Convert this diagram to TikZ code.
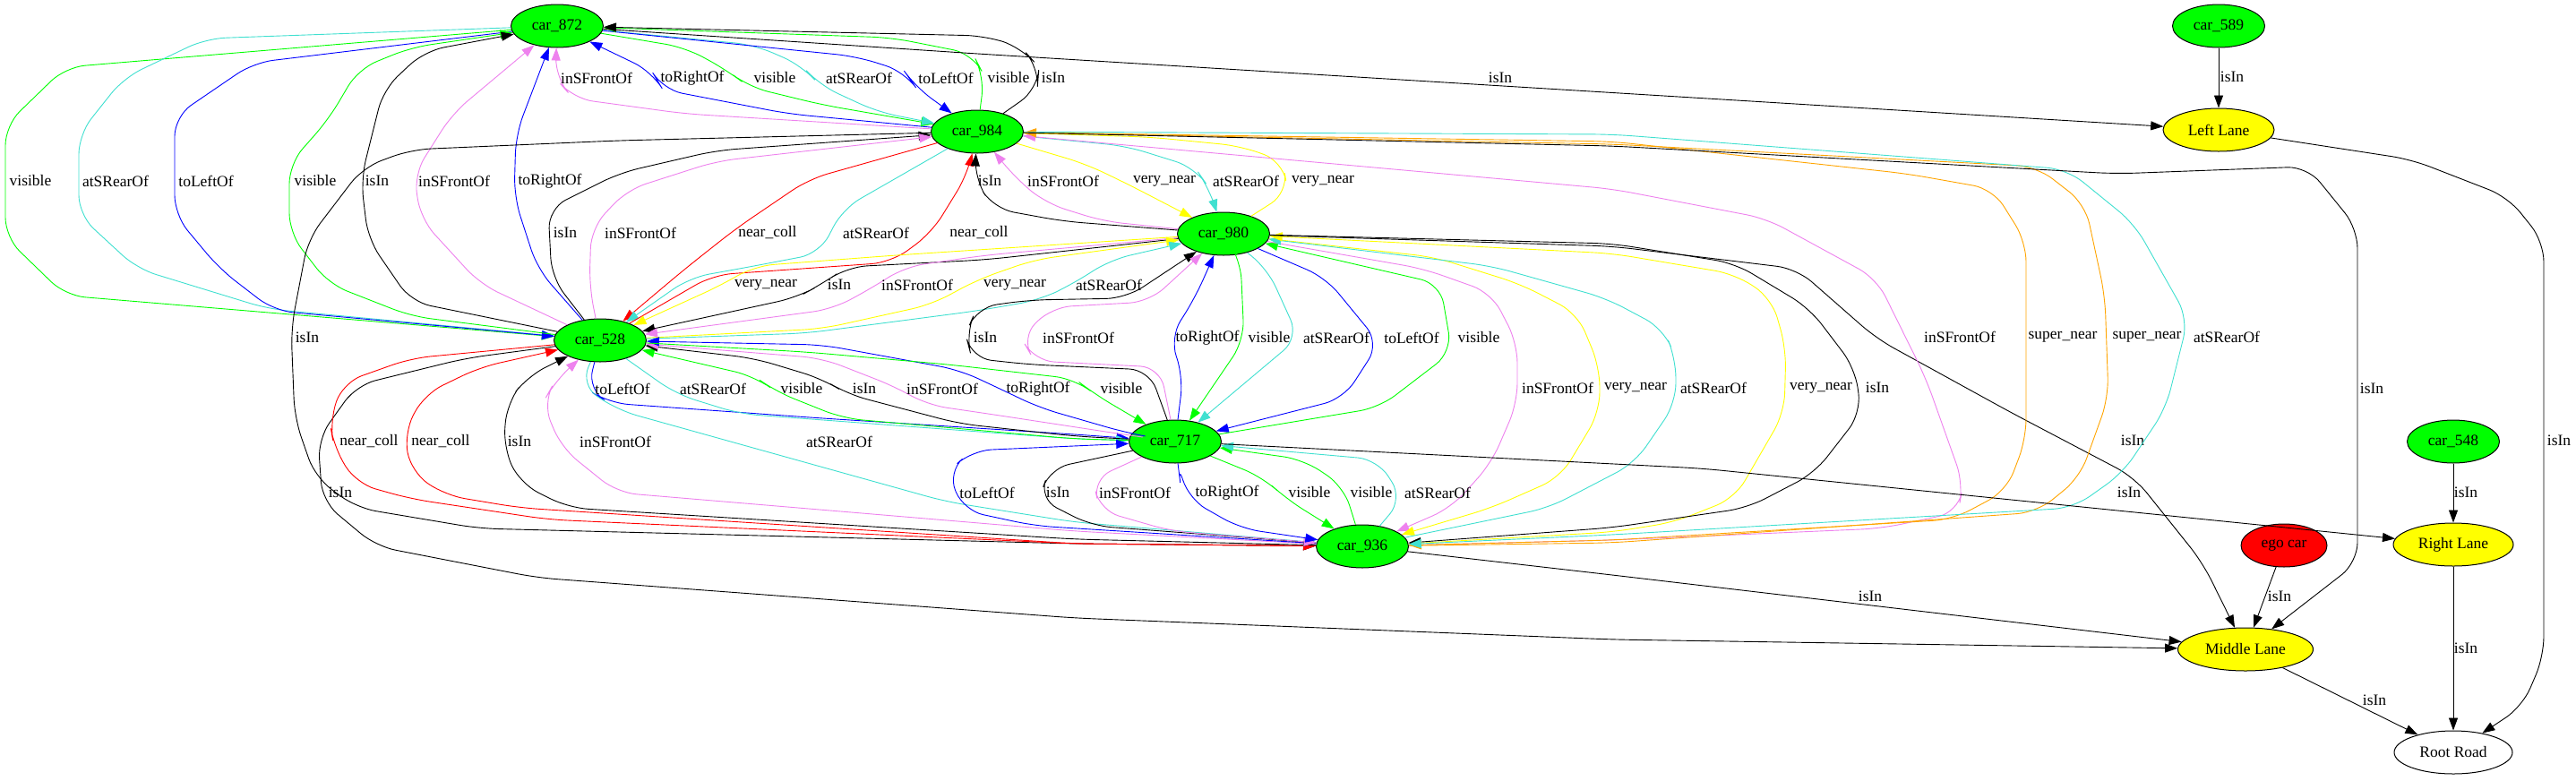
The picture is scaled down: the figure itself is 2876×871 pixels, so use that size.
\documentclass[tikz,border=0pt]{standalone}
\usepackage{fontspec}
\setmainfont{Liberation Serif}
\usetikzlibrary{shapes.geometric,arrows.meta}
\definecolor{gvgreen}{HTML}{00FF00}
\definecolor{gvturq}{HTML}{40E0D0}
\definecolor{gvblue}{HTML}{0000FF}
\definecolor{gvviolet}{HTML}{EE82EE}
\definecolor{gvred}{HTML}{FF0000}
\definecolor{gvyellow}{HTML}{FFFF00}
\definecolor{gvorange}{HTML}{FFA500}
\tikzset{
 car/.style={ellipse, draw=black, line width=1pt, fill=gvgreen, minimum width=103pt, minimum height=48pt, inner sep=0pt},
 lane/.style={car, fill=gvyellow},
 egocar/.style={car, fill=gvred, minimum width=96pt},
 road/.style={car, fill=white, minimum width=132pt},
 lbl/.style={inner sep=0pt, text=black},
 rel/.style={line width=0.9pt, rounded corners=22pt, -{Triangle[length=14pt,width=10pt]}},
 visE/.style={rel, draw=gvgreen},
 rearE/.style={rel, draw=gvturq},
 leftE/.style={rel, draw=gvblue},
 rightE/.style={rel, draw=gvblue},
 frontE/.style={rel, draw=gvviolet},
 isinE/.style={rel, draw=black},
 collE/.style={rel, draw=gvred},
 vnearE/.style={rel, draw=gvyellow},
 snearE/.style={rel, draw=gvorange}
}
\begin{document}
\begin{tikzpicture}[x=1pt, y=-1pt, font=\fontsize{17.5}{20}\selectfont]
\useasboundingbox (0,0) rectangle (2876,871);
\fill[white] (0,0) rectangle (2876,871);

\node[car] (n872) at (622,29) {car\_872};
\node[car] (n589) at (2477,29) {car\_589};
\node[car] (n984) at (1091,147) {car\_984};
\node[lane, minimum width=124pt] (nLL) at (2477,145) {Left Lane};
\node[car] (n980) at (1366,261) {car\_980};
\node[car] (n528) at (670,380) {car\_528};
\node[car] (n717) at (1312,493) {car\_717};
\node[car] (n548) at (2739,493) {car\_548};
\node[car] (n936) at (1521,610) {car\_936};
\node[egocar] (nego) at (2550,609) {ego car};
\node[lane, minimum width=134pt] (nRL) at (2739,608) {Right Lane};
\node[lane, minimum width=151pt] (nML) at (2507,725) {Middle Lane};
\node[road] (nRR) at (2739,840) {Root Road};

% car_872 and car_528
\draw[visE] (n872) -- (73,75) -- (6,140) -- (6,265) -- (73,330) -- (n528) node[lbl,at={(34,202)}] {visible};
\draw[rearE] (n872) -- (230,43) -- (138,87) -- (88,150) -- (88,240) -- (153,300) -- (300,345) -- (n528) node[lbl,at={(129,202)}] {atSRearOf};
\draw[leftE] (n872) -- (283,70) -- (195,130) -- (195,240) -- (245,300) -- (306,347) -- (n528) node[lbl,at={(230,202)}] {toLeftOf};
\draw[visE] (n528) -- (459,353) -- (367,317) -- (323,260) -- (323,183) -- (367,133) -- (400,77) -- (459,53) -- (n872) node[lbl,at={(352,202)}] {visible};
\draw[isinE] (n528) -- (459,337) -- (411,267) -- (403,200) -- (428,100) -- (474,57) -- (n872) node[lbl,at={(421,202)}] {isIn};
\draw[frontE] (n528) -- (536,317) -- (470,245) -- (462,195) -- (505,127) -- (n872) node[lbl,at={(507,202)}] {inSFrontOf};
\draw[rightE] (n528) -- (600,300) -- (574,220) -- (576,150) -- (n872) node[lbl,at={(614,202)}] {toRightOf};

% car_872 and car_984
\draw[frontE] (n984) -- (765,127) -- (640,110) -- (620,87) -- (n872) node[lbl,at={(666,87)}] {inSFrontOf};
\draw[rightE] (n984) -- (880,127) -- (740,100) -- (728,80) -- (n872) node[lbl,at={(773,87)}] {toRightOf};
\draw[visE] (n872) -- (765,53) -- (811,78) -- (836,97) -- (918,117) -- (n984) node[lbl,at={(865,87)}] {visible};
\draw[rearE] (n872) -- (842,50) -- (895,73) -- (915,95) -- (980,125) -- (n984) node[lbl,at={(959,87)}] {atSRearOf};
\draw[leftE] (n872) -- (956,63) -- (1010,80) -- (1022,97) -- (n984) node[lbl,at={(1056,87)}] {toLeftOf};
\draw[visE] (n984) -- (1099,85) -- (1086,60) -- (995,42) -- (n872) node[lbl,at={(1126,87)}] {visible};
\draw[isinE] (n984) -- (1158,100) -- (1160,75) -- (1140,53) -- (1100,40) -- (n872) node[lbl,at={(1176,87)}] {isIn};
\draw[isinE] (n872) -- (1091,60) -- (nLL) node[lbl,at={(1675,87)}] {isIn};
\draw[isinE] (n589) -- (nLL) node[lbl,at={(2492,86)}] {isIn};

% car_984 and car_528
\draw[isinE] (n528) -- (616,310) -- (612,233) -- (692,193) -- (800,168) -- (n984) node[lbl,at={(631,260)}] {isIn};
\draw[frontE] (n528) -- (658,320) -- (660,255) -- (700,212) -- (800,180) -- (n984) node[lbl,at={(715,260)}] {inSFrontOf};
\draw[collE] (n984) -- (903,200) -- (822,255) -- (765,300) -- (n528) node[lbl,at={(857,260)}] {near\_coll};
\draw[rearE] (n984) -- (941,233) -- (915,283) -- (842,297) -- (770,310) -- (n528) node[lbl,at={(978,260)}] {atSRearOf};
\draw[collE] (n528) -- (796,307) -- (995,293) -- (1040,260) -- (1080,195) -- (n984) node[lbl,at={(1093,260)}] {near\_coll};
\draw[isinE] (n984) -- (689,157) -- (459,167) -- (405,187) -- (344,267) -- (325,367) -- (329,467) -- (352,533) -- (398,567) -- (535,590) -- (1200,607) -- (n936) node[lbl,at={(343,377)}] {isIn};
\draw[isinE] (n528) -- (520,400) -- (398,430) -- (355,490) -- (360,560) -- (420,610) -- (600,645) -- (1200,690) -- (1800,714) -- (nML) node[lbl,at={(380,550)}] {isIn};

% car_984 and car_980
\draw[isinE] (n980) -- (1187,247) -- (1110,233) -- (1088,200) -- (n984) node[lbl,at={(1105,202)}] {isIn};
\draw[frontE] (n980) -- (1232,247) -- (1168,227) -- (1135,200) -- (n984) node[lbl,at={(1187,202)}] {inSFrontOf};
\draw[vnearE] (n984) -- (1212,183) -- (1258,205) -- (n980) node[lbl,at={(1300,202)}] {very\_near};
\draw[rearE] (n984) -- (1257,163) -- (1334,187) -- (1350,210) -- (n980) node[lbl,at={(1391,202)}] {atSRearOf};
\draw[vnearE] (n980) -- (1438,215) -- (1432,180) -- (1385,163) -- (1283,153) -- (n984) node[lbl,at={(1477,202)}] {very\_near};

% car_980 and car_528
\draw[vnearE] (n980) -- (1000,285) -- (842,297) -- (806,318) -- (n528) node[lbl,at={(855,318)}] {very\_near};
\draw[isinE] (n980) -- (1100,290) -- (946,298) -- (916,318) -- (890,332) -- (n528) node[lbl,at={(937,318)}] {isIn};
\draw[frontE] (n980) -- (1100,285) -- (1010,298) -- (976,320) -- (930,345) -- (n528) node[lbl,at={(1024,318)}] {inSFrontOf};
\draw[vnearE] (n528) -- (918,367) -- (1040,340) -- (1092,312) -- (1155,290) -- (n980) node[lbl,at={(1133,318)}] {very\_near};
\draw[rearE] (n528) -- (900,372) -- (1091,347) -- (1160,335) -- (1196,318) -- (1240,290) -- (n980) node[lbl,at={(1238,318)}] {atSRearOf};

% car_980 and car_717
\draw[isinE] (n717) -- (1283,413) -- (1150,407) -- (1085,400) -- (1078,373) -- (1091,343) -- (1149,335) -- (1257,333) -- (n980) node[lbl,at={(1100,377)}] {isIn};
\draw[frontE] (n717) -- (1295,410) -- (1155,403) -- (1140,377) -- (1174,343) -- (1283,337) -- (n980) node[lbl,at={(1204,377)}] {inSFrontOf};
\draw[rightE] (n717) -- (1321,420) -- (1306,377) -- (1334,333) -- (n980) node[lbl,at={(1348,377)}] {toRightOf};
\draw[visE] (n980) -- (1385,290) -- (1389,380) -- (n717) node[lbl,at={(1417,377)}] {visible};
\draw[rearE] (n980) -- (1415,300) -- (1450,377) -- (n717) node[lbl,at={(1492,377)}] {atSRearOf};
\draw[leftE] (n980) -- (1480,310) -- (1540,383) -- (1500,445) -- (n717) node[lbl,at={(1576,377)}] {toLeftOf};
\draw[visE] (n717) -- (1540,455) -- (1621,393) -- (1608,317) -- (n980) node[lbl,at={(1651,377)}] {visible};

% car_980 and car_936
\draw[frontE] (n980) -- (1589,300) -- (1665,327) -- (1694,383) -- (1694,450) -- (1665,517) -- (1620,567) -- (n936) node[lbl,at={(1739,433)}] {inSFrontOf};
\draw[vnearE] (n980) -- (1601,287) -- (1697,317) -- (1761,350) -- (1786,410) -- (1786,460) -- (1742,533) -- (1665,567) -- (n936) node[lbl,at={(1826,433)}] {very\_near};
\draw[rearE] (n936) -- (1729,567) -- (1825,517) -- (1871,450) -- (1871,400) -- (1857,367) -- (1793,333) -- (1665,297) -- (n980) node[lbl,at={(1913,433)}] {atSRearOf};
\draw[vnearE] (n936) -- (1800,594) -- (1869,583) -- (1937,556) -- (1992,461) -- (1994,389) -- (1978,333) -- (1937,306) -- (1800,283) -- (n980) node[lbl,at={(2033,433)}] {very\_near};
\draw[isinE] (n980) -- (1800,272) -- (1937,294) -- (2020,344) -- (2071,411) -- (2078,461) -- (2026,528) -- (1951,567) -- (1800,589) -- (n936) node[lbl,at={(2096,433)}] {isIn};
\draw[isinE] (n980) -- (1800,275) -- (2006,300) -- (2095,378) -- (2246,461) -- (2383,533) -- (2459,628) -- (nML) node[lbl,at={(2381,492)}] {isIn};

% car_984 and car_936
\draw[frontE] (n936) -- (1800,603) -- (2100,590) -- (2186,572) -- (2192,540) -- (2150,422) -- (2095,311) -- (1972,244) -- (1800,211) -- (n984) node[lbl,at={(2188,376)}] {inSFrontOf};
\draw[snearE] (n984) -- (1800,158) -- (2129,194) -- (2225,211) -- (2262,270) -- (2262,490) -- (2240,548) -- (2180,580) -- (1800,603) -- (n936) node[lbl,at={(2303,376)}] {super\_near};
\draw[snearE] (n936) -- (1800,606) -- (2274,572) -- (2322,533) -- (2354,444) -- (2350,330) -- (2328,228) -- (2274,186) -- (1800,161) -- (n984) node[lbl,at={(2397,376)}] {super\_near};
\draw[rearE] (n984) -- (1800,150) -- (2308,189) -- (2383,250) -- (2443,356) -- (2418,456) -- (2370,528) -- (2315,567) -- (1800,597) -- (n936) node[lbl,at={(2486,376)}] {atSRearOf};
\draw[isinE] (n984) -- (1800,163) -- (2363,194) -- (2576,186) -- (2632,255) -- (2632,628) -- (nML) node[lbl,at={(2648,434)}] {isIn};

% car_528 and car_717
\draw[leftE] (n528) -- (656,435) -- (680,450) -- (918,467) -- (1200,485) -- (n717) node[lbl,at={(695,434)}] {toLeftOf};
\draw[rearE] (n528) -- (755,440) -- (826,462) -- (1200,490) -- (n717) node[lbl,at={(796,434)}] {atSRearOf};
\draw[visE] (n717) -- (1200,490) -- (941,467) -- (866,437) -- (842,420) -- (n528) node[lbl,at={(895,434)}] {visible};
\draw[isinE] (n717) -- (1200,487) -- (1071,473) -- (946,440) -- (918,423) -- (842,400) -- (n528) node[lbl,at={(965,434)}] {isIn};
\draw[frontE] (n717) -- (1254,485) -- (1110,463) -- (1035,452) -- (1000,432) -- (918,400) -- (n528) node[lbl,at={(1052,434)}] {inSFrontOf};
\draw[rightE] (n717) -- (1257,483) -- (1160,455) -- (1112,432) -- (1071,413) -- (918,385) -- (n528) node[lbl,at={(1159,434)}] {toRightOf};
\draw[visE] (n528) -- (900,393) -- (1059,407) -- (1200,423) -- (1222,440) -- (n717) node[lbl,at={(1252,434)}] {visible};

% car_528 and car_936
\draw[collE] (n528) -- (459,400) -- (383,427) -- (368,470) -- (373,500) -- (398,540) -- (459,557) -- (612,580) -- (1200,607) -- (n936) node[lbl,at={(412,493)}] {near\_coll};
\draw[collE] (n936) -- (1200,607) -- (581,567) -- (497,553) -- (459,527) -- (451,483) -- (474,440) -- (536,410) -- (n528) node[lbl,at={(492,493)}] {near\_coll};
\draw[isinE] (n936) -- (1200,602) -- (635,567) -- (581,540) -- (562,500) -- (566,450) -- (589,420) -- (n528) node[lbl,at={(580,493)}] {isIn};
\draw[frontE] (n936) -- (1200,593) -- (689,550) -- (627,500) -- (606,450) -- (620,425) -- (n528) node[lbl,at={(687,493)}] {inSFrontOf};
\draw[rearE] (n528) -- (648,430) -- (690,458) -- (1056,560) -- (1200,583) -- (n936) node[lbl,at={(937,493)}] {atSRearOf};

% car_717 and car_936
\draw[leftE] (n936) -- (1155,587) -- (1076,570) -- (1058,527) -- (1085,503) -- (n717) node[lbl,at={(1102,550)}] {toLeftOf};
\draw[isinE] (n717) -- (1172,523) -- (1160,557) -- (1219,587) -- (n936) node[lbl,at={(1181,550)}] {isIn};
\draw[frontE] (n717) -- (1220,535) -- (1228,570) -- (1308,593) -- (n936) node[lbl,at={(1267,550)}] {inSFrontOf};
\draw[rightE] (n717) -- (1315,517) -- (1327,557) -- (1385,590) -- (n936) node[lbl,at={(1370,550)}] {toRightOf};
\draw[visE] (n717) -- (1410,533) -- (1436,557) -- (n936) node[lbl,at={(1462,550)}] {visible};
\draw[visE] (n936) -- (1500,543) -- (1455,513) -- (n717) node[lbl,at={(1531,550)}] {visible};
\draw[rearE] (n936) -- (1566,557) -- (1538,513) -- (n717) node[lbl,at={(1605,550)}] {atSRearOf};

% lanes and road
\draw[isinE] (n717) -- (1900,523) -- (nRL) node[lbl,at={(2377,550)}] {isIn};
\draw[isinE] (n936) -- (1800,642) -- (nML) node[lbl,at={(2088,666)}] {isIn};
\draw[isinE] (nego) -- (nML) node[lbl,at={(2545,666)}] {isIn};
\draw[isinE] (n548) -- (nRL) node[lbl,at={(2753,550)}] {isIn};
\draw[isinE] (nRL) -- (nRR) node[lbl,at={(2753,724)}] {isIn};
\draw[isinE] (nML) -- (nRR) node[lbl,at={(2651,782)}] {isIn};
\draw[isinE] (nLL) -- (2692,178) -- (2800,220) -- (2840,270) -- (2840,733) -- (2816,789) -- (nRR) node[lbl,at={(2857,492)}] {isIn};
\end{tikzpicture}
\end{document}
